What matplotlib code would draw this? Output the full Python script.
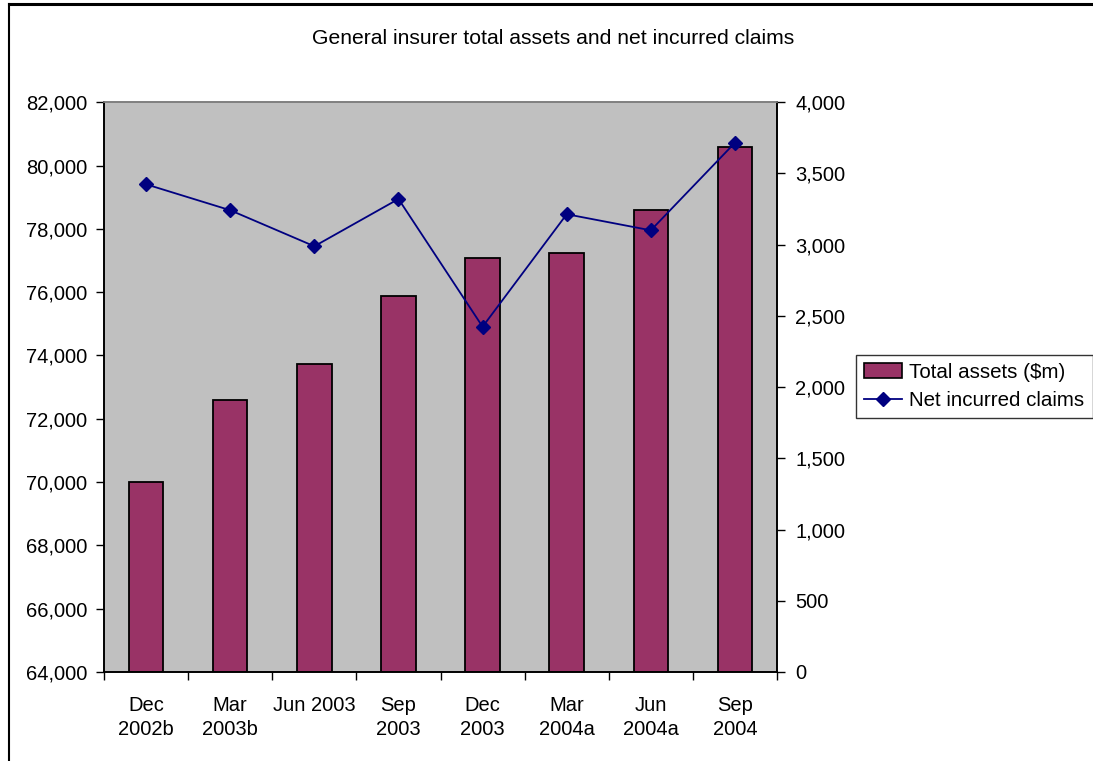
import matplotlib.pyplot as plt
from matplotlib.lines import Line2D
from matplotlib.ticker import FuncFormatter

plt.rcParams["font.family"] = ["Liberation Sans", "DejaVu Sans"]

# ── Data ─────────────────────────────────────────────────────────────── #

quarters = [
    "Dec\n2002b", "Mar\n2003b", "Jun 2003", "Sep\n2003",
    "Dec\n2003", "Mar\n2004a", "Jun\n2004a", "Sep\n2004",
]
total_assets = [70010, 72590, 73730, 75880, 77090, 77230, 78590, 80580]
net_claims = [3424, 3242, 2989, 3321, 2424, 3214, 3101, 3716]

left_ticks = list(range(64000, 82001, 2000))
right_ticks = list(range(0, 4001, 500))

BAR_COLOR = "#993366"
LINE_COLOR = "#000080"
PLOT_BG = "#C0C0C0"
FS = 14.5

comma = FuncFormatter(lambda v, _: f"{v:,.0f}")

# ── Figure ───────────────────────────────────────────────────────────── #

fig = plt.figure(figsize=(10.93, 7.61), dpi=100)
ax = fig.add_axes([0.0952, 0.1170, 0.6157, 0.7486])
ax.set_facecolor(PLOT_BG)

x = list(range(len(quarters)))
ax.bar(x, [v - 64000 for v in total_assets], bottom=64000, width=0.41,
       color=BAR_COLOR, edgecolor="black", linewidth=1.3, zorder=2)
ax.set_xlim(-0.5, len(quarters) - 0.5)
ax.set_ylim(64000, 82000)
ax.set_yticks(left_ticks)
ax.yaxis.set_major_formatter(comma)

# category ticks sit between the bars, labels under the bar centres
ax.set_xticks([i - 0.5 for i in range(len(quarters) + 1)])
ax.set_xticklabels([])
ax.set_xticks(x, minor=True)
ax.set_xticklabels(quarters, minor=True, fontsize=FS, linespacing=1.35,
                   va="top")
ax.tick_params(axis="x", which="major", direction="out", length=6,
               width=1, color="black")
ax.tick_params(axis="x", which="minor", length=0, pad=17)
ax.tick_params(axis="y", direction="out", length=6, width=1, pad=6,
               labelsize=FS)

ax2 = ax.twinx()
ax2.plot(x, net_claims, color=LINE_COLOR, linewidth=1.3, marker="D",
         markersize=7, zorder=3)
ax2.set_ylim(0, 4000)
ax2.set_yticks(right_ticks)
ax2.yaxis.set_major_formatter(comma)
ax2.tick_params(axis="y", direction="out", length=6, width=1, pad=7,
                labelsize=FS)

for a in (ax, ax2):
    a.spines["top"].set_color("#808080")
    a.spines["top"].set_linewidth(1.2)
    for side in ("left", "right", "bottom"):
        a.spines[side].set_color("black")
        a.spines[side].set_linewidth(1.2)

fig.text(0.506, 0.950, "General insurer total assets and net incurred claims",
         ha="center", va="center", fontsize=15.2)

handles = [
    plt.Rectangle((0, 0), 1, 1, facecolor=BAR_COLOR, edgecolor="black",
                  linewidth=1.2),
    Line2D([], [], color=LINE_COLOR, linewidth=1.3, marker="D", markersize=7),
]
leg = fig.legend(handles, ["Total assets ($m)", "Net incurred claims"],
                 loc="center left", bbox_to_anchor=(856 / 1093, 1 - 386.5 / 761),
                 fontsize=14.8, frameon=True, fancybox=False, handlelength=1.85,
                 handletextpad=0.35, borderpad=0.4, labelspacing=0.45,
                 borderaxespad=0)
leg.get_frame().set_edgecolor("black")
leg.get_frame().set_linewidth(1.0)

# outer chart frame, clipped at the right and bottom edges
fig.add_artist(Line2D([9 / 1093, 1.0], [1 - 4 / 761, 1 - 4 / 761],
                      transform=fig.transFigure, color="black", linewidth=2.2))
fig.add_artist(Line2D([9 / 1093, 9 / 1093], [0.0, 1 - 4 / 761],
                      transform=fig.transFigure, color="black", linewidth=1.5))

fig.savefig("out.png", dpi=100)
